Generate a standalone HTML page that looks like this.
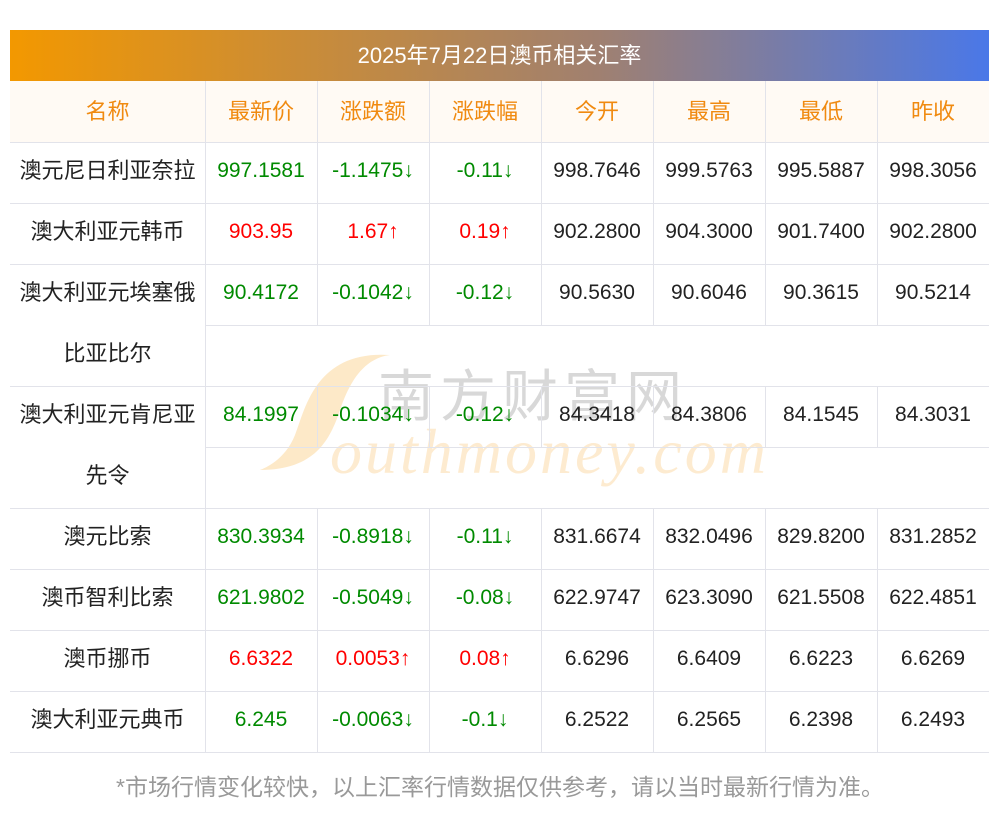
<!DOCTYPE html>
<html><head><meta charset="utf-8">
<style>
body{margin:0;width:1000px;height:817px;background:#fff;position:relative;overflow:hidden;font-family:"Liberation Sans","Noto Sans CJK SC",sans-serif;}
.c{position:absolute;box-sizing:border-box;display:flex;align-items:center;justify-content:center;font-size:21px;color:#222;padding-bottom:4px;}
.hl{position:absolute;height:1px;background:#e2e3ea;}
.vl{position:absolute;width:1px;background:#e2e3ea;}
#title{position:absolute;left:10px;top:30px;width:979px;height:51px;background:linear-gradient(90deg,#f39800,#a08070 60%,#4a78e8);color:#fff;font-size:22px;display:flex;align-items:center;justify-content:center;padding-bottom:4px;box-sizing:border-box;}
#hdr{position:absolute;left:10px;top:81px;width:979px;height:61px;background:#fffaf4;}
#foot{position:absolute;left:0;top:768px;width:1000px;text-align:center;font-size:23px;color:#999;}
.wm{position:absolute;pointer-events:none;}
</style></head><body>
<div id="title">2025年7月22日澳币相关汇率</div>
<div id="hdr"></div>
<div class="wm" style="left:255px;top:350px;width:140px;height:125px;">
<svg width="140" height="125"><path d="M135 5 C60 0 50 60 40 85 C30 110 10 118 5 120 C60 120 75 90 85 60 C95 30 110 8 135 5Z" fill="#fde9c8"/></svg></div>
<div class="wm" style="left:378px;top:352px;font-size:56px;color:#d8d8d8;letter-spacing:6px;">南方财富网</div>
<div class="wm" style="left:330px;top:415px;font-size:64px;color:#fdebd0;font-family:'Liberation Serif',serif;font-style:italic;letter-spacing:3px;">outhmoney.com</div>
<div id="tbl"></div>
<div id="foot">*市场行情变化较快，以上汇率行情数据仅供参考，请以当时最新行情为准。</div>
<script>
const headers=["名称","最新价","涨跌额","涨跌幅","今开","最高","最低","昨收"];
const names=["澳元尼日利亚奈拉","澳大利亚元韩币","澳大利亚元埃塞俄比亚比尔","澳大利亚元肯尼亚先令","澳元比索","澳币智利比索","澳币挪币","澳大利亚元典币"];
const latest=["997.1581","903.95","90.4172","84.1997","830.3934","621.9802","6.6322","6.245"];
const change=["-1.1475","1.67","-0.1042","-0.1034","-0.8918","-0.5049","0.0053","-0.0063"];
const pct=["-0.11","0.19","-0.12","-0.12","-0.11","-0.08","0.08","-0.1"];
const open=["998.7646","902.2800","90.5630","84.3418","831.6674","622.9747","6.6296","6.2522"];
const high=["999.5763","904.3000","90.6046","84.3806","832.0496","623.3090","6.6409","6.2565"];
const low=["995.5887","901.7400","90.3615","84.1545","829.8200","621.5508","6.6223","6.2398"];
const prev=["998.3056","902.2800","90.5214","84.3031","831.2852","622.4851","6.6269","6.2493"];
const xs=[10,205,317,429,541,653,765,877,989];
const H=61;
const root=document.getElementById('tbl');
function cell(x,y,w,h,txt,color){const d=document.createElement('div');d.className='c';d.style.left=x+'px';d.style.top=y+'px';d.style.width=w+'px';d.style.height=h+'px';if(color)d.style.color=color;d.textContent=txt;root.appendChild(d);return d;}
function hl(x1,x2,y){const d=document.createElement('div');d.className='hl';d.style.left=x1+'px';d.style.width=(x2-x1)+'px';d.style.top=y+'px';root.appendChild(d);}
function vl(x,y1,y2){const d=document.createElement('div');d.className='vl';d.style.left=x+'px';d.style.top=y1+'px';d.style.height=(y2-y1)+'px';root.appendChild(d);}
headers.forEach((h,i)=>{const d=cell(xs[i],81,xs[i+1]-xs[i],H,h,'#f08a10');
d.style.fontSize='22px';

});
for(let i=1;i<8;i++)vl(xs[i],81,142);
hl(10,989,142);
let y=142;
names.forEach((n,r)=>{
 const tall=n.length>8;const rh=tall?2*H:H;
 const nc=cell(10,y,195,rh,'',null);
 nc.style.fontSize='22px';nc.style.lineHeight='61px';nc.style.textAlign='center';nc.style.display='block';nc.style.paddingBottom='0';nc.style.marginTop='-2px';
 nc.innerHTML=tall?(n.slice(0,8)+'<br>'+n.slice(8)):n;
 
 
 const up=parseFloat(change[r])>0;const col=up?'#f00':'#008a00';const ar=up?'↑':'↓';
 const vals=[[latest[r],col],[change[r]+ar,col],[pct[r]+ar,col],[open[r]],[high[r]],[low[r]],[prev[r]]];
 vals.forEach((v,j)=>{const d=cell(xs[j+1],y,xs[j+2]-xs[j+1],H,v[0],v[1]||'#222');
 
 });
 for(let i=1;i<8;i++)vl(xs[i],y,y+H);
 if(tall){vl(205,y+H,y+rh);hl(205,989,y+H);}
 y+=rh;hl(10,989,y);
});
</script>
</body></html>
